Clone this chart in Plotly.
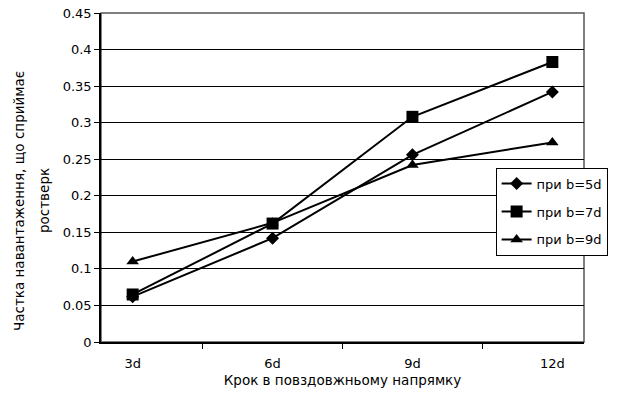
import plotly.graph_objects as go

categories = ["3d", "6d", "9d", "12d"]
b5 = [0.062, 0.142, 0.256, 0.342]
b7 = [0.065, 0.162, 0.308, 0.383]
b9 = [0.110, 0.163, 0.242, 0.273]
names = ["при b=5d", "при b=7d", "при b=9d"]
y_ticks = [0, 0.05, 0.1, 0.15, 0.2, 0.25, 0.3, 0.35, 0.4, 0.45]
y_labels = ["0", "0.05", "0.1", "0.15", "0.2", "0.25", "0.3", "0.35", "0.4", "0.45"]
y_title = ["Частка навантаження, що сприймає", "ростверк"]
x_title = "Крок в повздовжньому напрямку"

FAM = "DejaVu Sans, sans-serif"
FS = 13
FT = 13.5
fig = go.Figure()
for i, (vals, nm, sym, sz) in enumerate([(b5, names[0], "diamond", 10),
                                          (b7, names[1], "square", 12),
                                          (b9, names[2], "triangle-up", 11)]):
    fig.add_trace(go.Scatter(x=categories, y=vals, name=nm, mode="lines+markers",
                             legendgroup="g%d" % i,
                             line=dict(color="black", width=2),
                             marker=dict(symbol=sym, size=sz, color="black")))

fig.update_layout(
    width=617, height=400,
    margin=dict(l=101, r=33, t=13, b=58, autoexpand=False),
    paper_bgcolor="white", plot_bgcolor="white",
    font=dict(family=FAM, size=FS, color="black"),
    legend=dict(x=0.817, y=0.53, xanchor="left", yanchor="top",
                bgcolor="white", bordercolor="black", borderwidth=1,
                tracegroupgap=8,
                font=dict(family=FAM, size=FS, color="black")),
    xaxis=dict(type="category", tickson="boundaries", ticks="outside", ticklen=5,
               tickcolor="black", showline=True, linecolor="black", linewidth=1.5,
               showgrid=False, automargin=False,
               tickfont=dict(family=FAM, size=FS, color="black"),
               ticklabelstandoff=9,
               title=dict(text=x_title, standoff=5,
                          font=dict(family=FAM, size=FT, color="black"))),
    yaxis=dict(range=[0, 0.45], tickvals=y_ticks, ticktext=y_labels,
               ticks="outside", ticklen=5, tickcolor="black",
               showline=True, linecolor="black", linewidth=1.5,
               showgrid=True, gridcolor="black", gridwidth=1, zeroline=False,
               automargin=False,
               tickfont=dict(family=FAM, size=FS, color="black")),
)
fig.add_shape(type="rect", xref="paper", yref="paper", x0=0, y0=0, x1=1, y1=1,
              line=dict(color="#555555", width=1.5), layer="below")
for txt, xpx in [(y_title[0], 19), (y_title[1], 44)]:
    fig.add_annotation(text=txt, xref="paper", yref="paper",
                       x=(xpx - 101) / 483, y=(342 - 201) / 329,
                       xanchor="center", yanchor="middle", textangle=-90,
                       showarrow=False, font=dict(family=FAM, size=FT, color="black"))
fig.write_html("out.html")
